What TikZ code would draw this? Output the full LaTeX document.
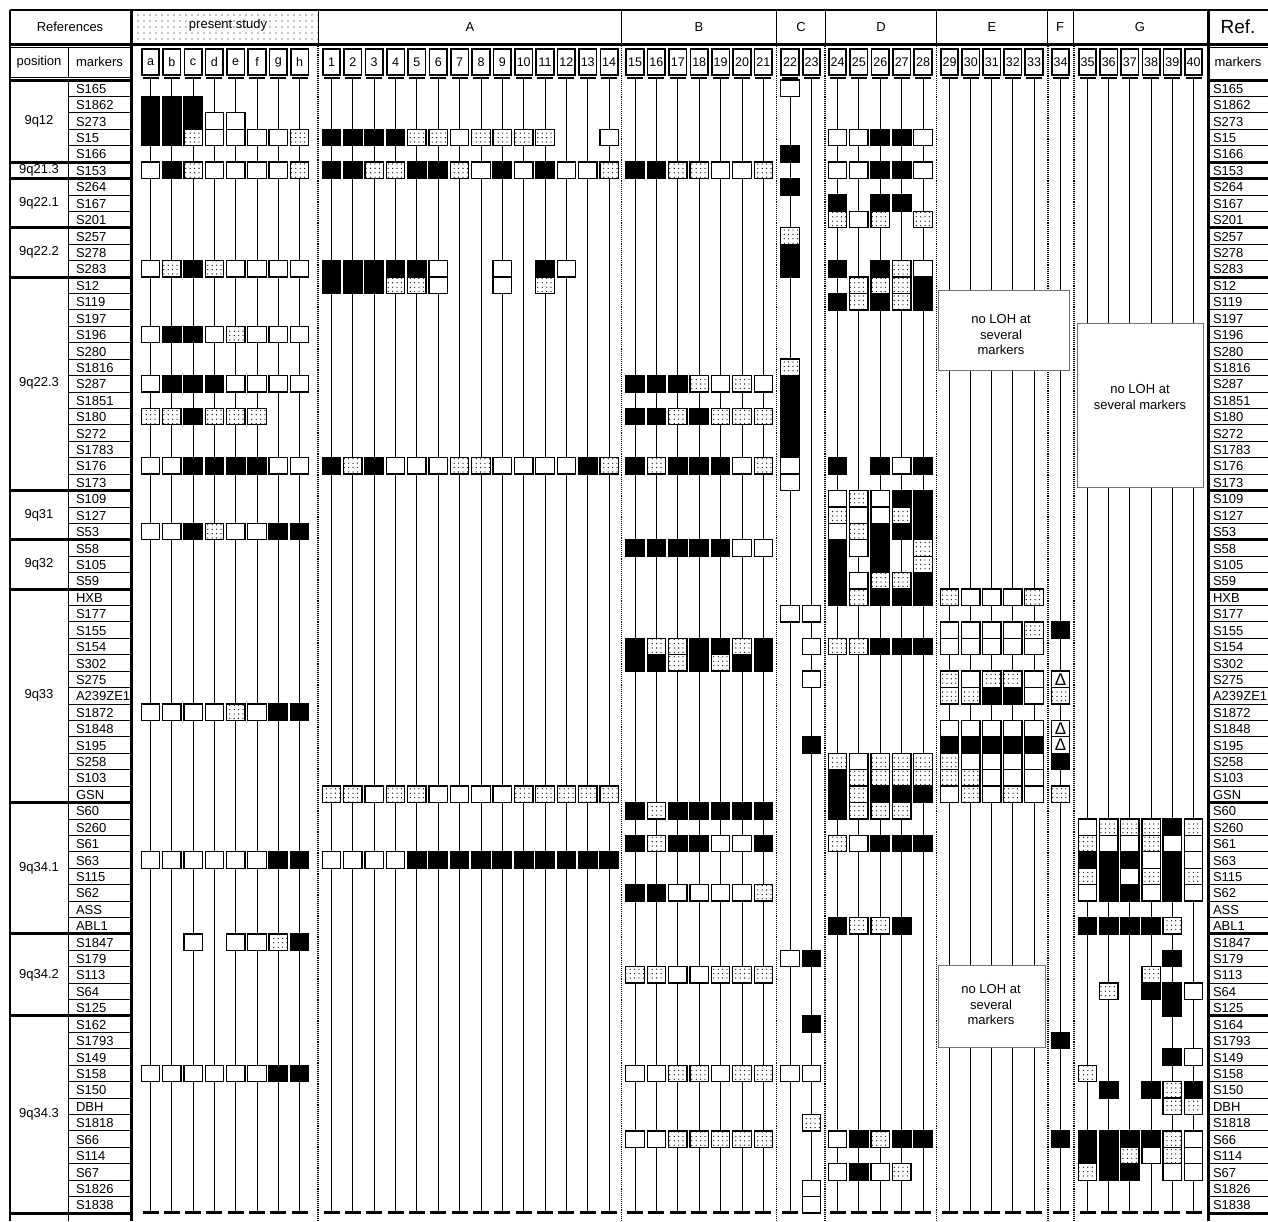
\documentclass[tikz,border=0pt]{standalone}
\usepackage{fontspec}
\setmainfont{Liberation Sans}
\usetikzlibrary{patterns.meta}
\begin{document}
\begin{tikzpicture}[x=1pt,y=-1pt,
  every node/.style={inner sep=0pt,outer sep=0pt},
  txt/.style={font=\fontsize{13pt}{15.5pt}\selectfont},
  cellbase/.style={minimum width=18.4pt,minimum height=16.42pt,line width=1.3pt,draw=black},
  kcell/.style={cellbase,fill=black},
  wcell/.style={cellbase,fill=white},
  dcell/.style={cellbase,fill=white,postaction={pattern={Dots[distance=4.4pt,radius=0.65pt,xshift=1pt,yshift=1pt]},pattern color=black}},
  tcell/.style={cellbase,fill=white,label={[font=\fontsize{17pt}{17pt}\selectfont]center:Δ}},
  hdrbox/.style={draw=black,line width=1.6pt,minimum width=17.5pt,minimum height=26pt,fill=white,font=\fontsize{12.5pt}{14pt}\selectfont},
  sepline/.style={densely dotted,line width=1.1pt},
  nolo/.style={draw=black!55,line width=0.7pt,fill=white},
  colbar/.style={line width=2.8pt},
  colline/.style={line width=1pt},
  grp/.style={line width=3pt},
  thin/.style={line width=0.8pt},
]
\useasboundingbox (0,0) rectangle (1268,1221);
\fill[white] (0,0) rectangle (1268,1221);

% ---------- top header ----------
\path[pattern={Dots[distance=6pt,radius=0.6pt]},pattern color=black] (132,10) rectangle (318,44);
\draw[line width=2pt] (10,10) -- (1268,10);
\draw[line width=3pt] (10,44.5) -- (1268,44.5);
\foreach \xx in {621.7,776.7,825,936.7,1047,1073}{\draw[thin] (\xx,10) -- (\xx,44.5);}
\draw[thin] (318,10) -- (318,44.5);
\node[txt] (hRef) at (70,27) {References};
\node[txt] (hPres) at (228,25) {present study};
\node[txt] (hA) at (470,27) {A};
\node[txt] (hB) at (699,27) {B};
\node[txt] (hC) at (801,27) {C};
\node[txt] (hD) at (881,27) {D};
\node[txt] (hE) at (992,27) {E};
\node[txt] (hF) at (1060,27) {F};
\node[txt] (hG) at (1140,27) {G};
\node[font=\fontsize{19pt}{20pt}\selectfont] (hRefR) at (1238,27) {Ref.};

% ---------- dotted group separators ----------
\foreach \xx in {318,621.7,776.7,825,936.7,1048,1074}{\draw[sepline] (\xx,46) -- (\xx,1221);}

% ---------- column lines, bars and header boxes ----------
\foreach \x/\lab in {150.5/a,171.8/b,193.1/c,214.4/d,235.7/e,257.0/f,278.3/g,299.6/h,
 331.5/1,352.9/2,374.2/3,395.6/4,416.9/5,438.3/6,459.6/7,481.0/8,502.3/9,523.7/10,545.0/11,566.4/12,587.7/13,609.1/14,
 635.0/15,656.4/16,677.8/17,699.2/18,720.6/19,742.0/20,763.4/21,790.0/22,811.5/23,
 837.5/24,858.9/25,880.3/26,901.7/27,923.0/28,949.5/29,970.8/30,991.8/31,1012.8/32,1034.0/33,1060.5/34,
 1087.5/35,1108.7/36,1129.9/37,1151.1/38,1172.3/39,1193.5/40}{
  \coordinate (top-\lab) at (\x,78);
  \coordinate (bot-\lab) at (\x,1212.5);
  \draw[colline] (top-\lab) -- (bot-\lab);
  \draw[colbar] ([xshift=-8pt]top-\lab) -- ([xshift=8pt]top-\lab);
  \draw[colbar] ([xshift=-8pt]bot-\lab) -- ([xshift=8pt]bot-\lab);
  \node[hdrbox] (hd-\lab) at (\x,62) {\lab};
}

% ---------- "no LOH" boxes ----------
\node[nolo,minimum width=131pt,minimum height=80pt] (nolohE) at (1003.5,330) {};
\node[txt,align=center] (nolohEt) at (1001,335) {no LOH at\\several\\markers};
\node[nolo,minimum width=126pt,minimum height=164pt] (nolohG) at (1140,405) {};
\node[txt,align=center] (nolohGt) at (1140,397) {no LOH at\\several markers};
\node[nolo,minimum width=107pt,minimum height=82pt] (nolohE2) at (991.5,1006) {};
\node[txt,align=center] (nolohE2t) at (991,1005) {no LOH at\\several\\markers};

% ---------- cells ----------
\foreach \x/\lab/\data in {
 150.5/a/{1/k,2/k,3/k,5/w,11/w,15/w,18/w,20/d,23/w,27/w,38/w,47/w,60/w},
 171.8/b/{1/k,2/k,3/k,5/k,11/d,15/k,18/k,20/d,23/w,27/w,38/w,47/w,60/w},
 193.1/c/{1/k,2/k,3/d,5/d,11/k,15/k,18/k,20/k,23/k,27/k,38/w,47/w,52/w,60/w},
 214.4/d/{2/w,3/w,5/w,11/d,15/w,18/k,20/d,23/k,27/d,38/w,47/w,60/w},
 235.7/e/{2/w,3/w,5/w,11/w,15/d,18/w,20/d,23/k,27/w,38/d,47/w,52/w,60/w},
 257.0/f/{3/w,5/w,11/w,15/w,18/w,20/d,23/k,27/w,38/w,47/w,52/w,60/w},
 278.3/g/{3/w,5/w,11/w,15/w,18/w,23/w,27/k,38/k,47/k,52/d,60/k},
 299.6/h/{3/d,5/d,11/w,15/w,18/w,23/w,27/k,38/k,47/k,52/k,60/k},
 331.5/1/{3/k,5/k,11/k,12/k,23/k,43/d,47/w},
 352.9/2/{3/k,5/k,11/k,12/k,23/d,43/d,47/w},
 374.2/3/{3/k,5/d,11/k,12/k,23/k,43/w,47/w},
 395.6/4/{3/k,5/d,11/k,12/d,23/w,43/d,47/w},
 416.9/5/{3/d,5/k,11/k,12/d,23/w,43/d,47/k},
 438.3/6/{3/d,5/k,11/w,12/w,23/w,43/w,47/k},
 459.6/7/{3/w,5/d,23/d,43/w,47/k},
 481.0/8/{3/d,5/w,23/d,43/w,47/k},
 502.3/9/{3/d,5/k,11/w,12/w,23/w,43/w,47/k},
 523.7/10/{3/d,5/w,23/w,43/d,47/k},
 545.0/11/{3/d,5/k,11/k,12/d,23/w,43/d,47/k},
 566.4/12/{5/w,11/w,23/w,43/d,47/k},
 587.7/13/{5/w,23/k,43/d,47/k},
 609.1/14/{3/w,5/d,23/d,43/d,47/k},
 635.0/15/{5/k,18/k,20/k,23/k,28/k,34/k,35/k,44/k,46/k,49/k,54/d,60/w,64/w},
 656.4/16/{5/k,18/k,20/k,23/d,28/k,34/d,35/k,44/d,46/d,49/k,54/d,60/w,64/w},
 677.8/17/{5/d,18/k,20/d,23/k,28/k,34/d,35/d,44/k,46/k,49/w,54/w,60/d,64/d},
 699.2/18/{5/d,18/d,20/k,23/k,28/k,34/k,35/k,44/k,46/k,49/w,54/w,60/d,64/d},
 720.6/19/{5/w,18/w,20/d,23/k,28/k,34/k,35/d,44/k,46/w,49/w,54/d,60/w,64/d},
 742.0/20/{5/w,18/d,20/d,23/w,28/w,34/d,35/k,44/k,46/w,49/w,54/d,60/d,64/d},
 763.4/21/{5/d,18/w,20/d,23/d,28/w,34/k,35/k,44/k,46/k,49/d,54/d,60/d,64/d},
 790.0/22/{0/w,4/k,6/k,9/d,10/k,11/k,17/d,18/k,19/k,20/k,21/k,22/k,23/w,24/w,32/w,53/w,60/w},
 811.5/23/{32/w,34/w,36/w,40/k,53/k,57/k,60/w,63/d,67/w,68/w},
 837.5/24/{3/w,5/w,7/k,8/d,11/k,13/k,23/k,25/w,26/d,27/w,28/k,29/k,30/k,31/k,34/d,41/d,42/k,43/k,44/k,46/d,51/k,64/w,66/w},
 858.9/25/{3/w,5/w,8/w,12/d,13/d,25/d,26/w,27/d,28/w,30/w,31/d,34/d,41/w,42/d,43/d,44/d,46/w,51/d,64/k,66/k},
 880.3/26/{3/k,5/k,7/k,8/d,11/k,12/d,13/k,23/k,25/w,26/w,27/k,28/k,29/k,30/d,31/k,34/k,41/d,42/d,43/k,44/d,46/k,51/d,64/d,66/w},
 901.7/27/{3/k,5/k,7/k,11/d,12/d,13/d,23/w,25/k,26/d,27/k,30/d,31/k,34/k,41/d,42/d,43/k,44/d,46/k,51/k,64/k,66/d},
 923.0/28/{3/w,5/w,8/d,11/w,12/k,13/k,23/k,25/k,26/k,27/k,28/d,29/d,30/k,31/k,34/k,41/d,42/d,43/k,46/k,64/k},
 949.5/29/{31/d,33/w,34/w,36/d,37/d,39/w,40/k,41/d,42/d,43/w},
 970.8/30/{31/w,33/w,34/w,36/w,37/d,39/w,40/k,41/w,42/d,43/d},
 991.8/31/{31/w,33/w,34/w,36/d,37/k,39/w,40/k,41/w,42/w,43/w},
 1012.8/32/{31/w,33/w,34/w,36/d,37/k,39/w,40/k,41/w,42/w,43/d},
 1034.0/33/{31/d,33/d,34/w,36/w,37/w,39/w,40/k,41/w,42/w,43/w},
 1060.5/34/{33/k,36/t,37/d,39/t,40/t,41/k,43/d,58/k,64/k},
 1087.5/35/{45/w,46/d,47/k,48/d,49/w,51/k,60/d,64/k,65/k,66/d},
 1108.7/36/{45/d,46/w,47/k,48/k,49/k,51/k,55/d,61/k,64/k,65/k,66/k},
 1129.9/37/{45/d,46/w,47/k,48/w,49/k,51/k,64/k,65/d,66/k},
 1151.1/38/{45/d,46/d,47/w,48/d,49/w,51/k,54/d,55/k,61/k,64/k,65/w},
 1172.3/39/{45/k,46/w,47/k,48/k,49/k,51/d,53/k,55/k,56/k,59/k,61/d,62/d,64/d,65/d,66/w},
 1193.5/40/{45/d,46/w,47/w,48/d,49/w,55/w,59/w,61/k,62/d,64/w,65/w,66/w}}{%
  \foreach \r/\ty in \data {
    \node[\ty cell] (c-\lab-\r) at (\x,{88.21+16.42*\r}) {};
  }
}

% ---------- left table ----------
\foreach \m [count=\i from 0] in {S165,S1862,S273,S15,S166,S153,S264,S167,S201,S257,S278,S283,S12,S119,S197,S196,S280,S1816,S287,S1851,S180,S272,S1783,S176,S173,S109,S127,S53,S58,S105,S59,HXB,S177,S155,S154,S302,S275,A239ZE1,S1872,S1848,S195,S258,S103,GSN,S60,S260,S61,S63,S115,S62,ASS,ABL1,S1847,S179,S113,S64,S125,S162,S1793,S149,S158,S150,DBH,S1818,S66,S114,S67,S1826,S1838}{
  \draw[thin] (68,{80+16.42*\i}) rectangle (131,{80+16.42*(\i+1)});
  \node[txt,anchor=base west] (ml-\i) at (76,{80+16.42*\i+13.3}) {\m};
}
\foreach \m [count=\i from 0] in {S165,S1862,S273,S15,S166,S153,S264,S167,S201,S257,S278,S283,S12,S119,S197,S196,S280,S1816,S287,S1851,S180,S272,S1783,S176,S173,S109,S127,S53,S58,S105,S59,HXB,S177,S155,S154,S302,S275,A239ZE1,S1872,S1848,S195,S258,S103,GSN,S60,S260,S61,S63,S115,S62,ASS,ABL1,S1847,S179,S113,S64,S125,S164,S1793,S149,S158,S150,DBH,S1818,S66,S114,S67,S1826,S1838}{
  \draw[thin] (1208,{80+16.42*(\i+1)}) -- (1268,{80+16.42*(\i+1)});
  \node[txt,anchor=base west] (mr-\i) at (1213,{80+16.42*\i+13.3}) {\m};
}
\foreach \a/\b/\p in {0/4/9q12,5/5/9q21.3,6/8/9q22.1,9/11/9q22.2,12/24/9q22.3,25/27/9q31,28/30/9q32,31/43/9q33,44/51/9q34.1,52/56/9q34.2,57/68/9q34.3}{
  \draw[thin] (10,{80+16.42*\a}) rectangle (68,{80+16.42*(\b+1)});
  \node[txt] (pos-\a) at (39,{80+16.42*(\a+\b+1)/2}) {\p};
}
\foreach \r in {0,5,6,9,12,25,28,31,44,52,57,69}{
  \draw[grp] (10,{80+16.42*\r}) -- (131,{80+16.42*\r});
  \draw[grp] (1208,{80+16.42*\r}) -- (1268,{80+16.42*\r});
}
% second header row
\draw[thin] (10,47) rectangle (68,77.5);
\draw[thin] (68,47) rectangle (131,77.5);
\draw[thin] (1208,47) -- (1268,47);
\node[txt] (hPos) at (39,62) {position};
\node[txt] (hMk) at (99.5,62) {markers};
\node[txt] (hMkR) at (1238,62) {markers};
% frame lines
\draw[line width=1.5pt] (10,10) -- (10,1221);
\draw[thin] (68,1213) -- (68,1221);
\draw[line width=3pt] (131,10) -- (131,1221);
\draw[line width=3pt] (1208,10) -- (1208,1221);
\end{tikzpicture}
\end{document}
